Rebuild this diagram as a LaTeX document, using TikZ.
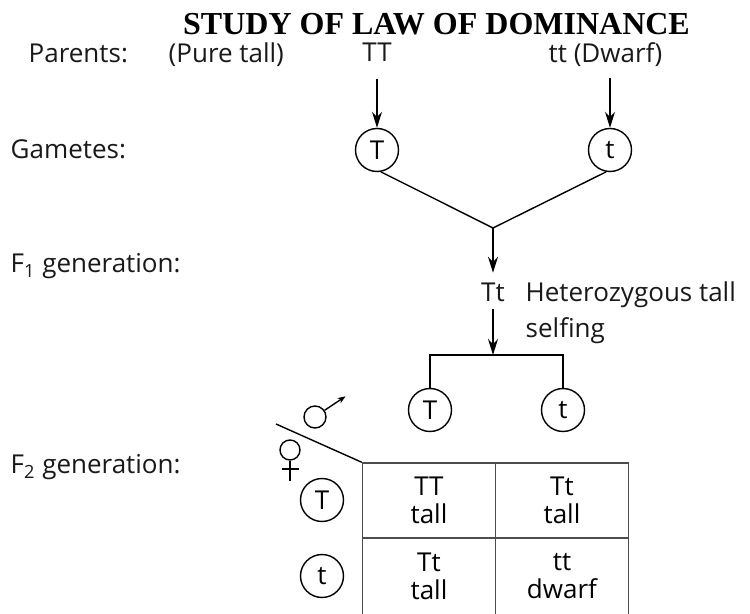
\documentclass[tikz,border=0pt]{standalone}
\usepackage{fontspec}
\setmainfont{Open Sans}
\newfontfamily\titlefont{Liberation Serif}
\usetikzlibrary{arrows.meta}
\begin{document}
\begin{tikzpicture}[x=0.5pt,y=-0.5pt,line width=0.7pt,
    txt/.style={font=\fontsize{13}{15}\selectfont,text=black!90,inner sep=0pt},
    allele/.style={circle,draw,minimum size=21.5pt,inner sep=0pt,font=\fontsize{13}{15}\selectfont},
    arr/.style={-{Stealth[length=8pt,width=5pt]}},
    cell/.style={draw=black!70,minimum width=66.5pt,align=center,inner sep=0pt,font=\fontsize{13}{14}\selectfont}]
\useasboundingbox (0,0) rectangle (750,614);
% title and row labels
\node[anchor=base,inner sep=0pt,font=\titlefont\bfseries\fontsize{16}{18}\selectfont] (title) at (436.5,35) {STUDY OF LAW OF DOMINANCE};
\node[txt,anchor=base west] (parentslbl) at (28,63) {Parents:};
\node[txt,anchor=base west] (gameteslbl) at (10,159) {Gametes:};
\node[txt,anchor=base west] (fonelbl) at (10,273) {F\textsubscript{1} generation:};
\node[txt,anchor=base west] (ftwolbl) at (10,474) {F\textsubscript{2} generation:};
% parents
\node[txt,anchor=base west] (puretall) at (168,63) {(Pure tall)};
\node[txt,anchor=base] (TT) at (377,62) {TT};
\node[txt,anchor=base west] (dwarf) at (548,63) {tt (Dwarf)};
% gametes
\node[allele] (gT) at (377,150) {T};
\node[allele] (gt) at (610,150) {t};
\draw[arr,shorten <=8pt] (TT) -- (gT);
\draw[arr,shorten <=5pt] (dwarf.south -| gt.north) -- (gt.north);
\coordinate (cross) at (493,228);
\draw (gT.-80) -- (cross) -- (gt.-100);
% F1
\node[txt,anchor=base] (Tt) at (493,302) {Tt};
\node[txt,anchor=base west] (het) at (525,302) {Heterozygous tall};
\node[txt,anchor=base west] (selfing) at (525,338) {selfing};
\draw[arr,shorten >=5pt] (cross) -- (Tt);
\coordinate (split) at (493,355);
\draw[arr,shorten <=3pt] (Tt) -- (split);
% F2 gametes
\node[allele] (fT) at (430,410) {T};
\node[allele] (ft) at (563,410) {t};
\draw (fT.north) |- (split) -| (ft.north);
% male and female signs
\node[circle,draw,minimum size=11pt,inner sep=0pt] (male) at (315,417) {};
\draw[-{Stealth[length=4pt,width=3pt]}] (male.35) -- ++(21,-14);
\node[circle,draw,minimum size=10pt,inner sep=0pt] (female) at (290,450) {};
\draw (female.south) -- ++(0,20);
\draw (282,469) -- (299,469);
% checkerboard
\node[cell,minimum height=37.5pt] (c11) at (429,500.5) {TT\\tall};
\node[cell,minimum height=37.5pt] (c12) at (562,500.5) {Tt\\tall};
\node[cell,minimum height=38.5pt] (c21) at (429,576.5) {Tt\\tall};
\node[cell,minimum height=38.5pt] (c22) at (562,576.5) {tt\\dwarf};
\coordinate (diag) at (276,424);
\draw (diag) -- (c11.north west);
\node[allele] (rT) at (322,500) {T};
\node[allele] (rt) at (322,576) {t};
\end{tikzpicture}
\end{document}
